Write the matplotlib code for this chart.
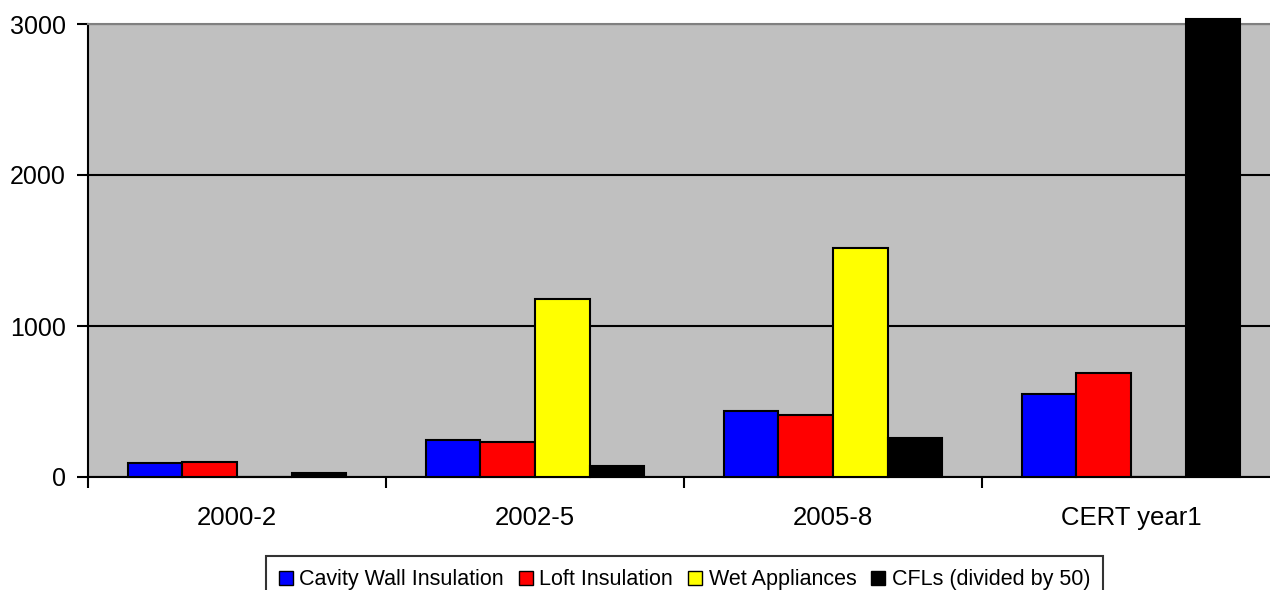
import matplotlib.pyplot as plt
import numpy as np

plt.rcParams["font.family"] = ["Liberation Sans", "DejaVu Sans"]

periods = ["2000-2", "2002-5", "2005-8", "CERT year1"]
series_names = [
	"Cavity Wall Insulation",
	"Loft Insulation",
	"Wet Appliances",
	"CFLs (divided by 50)",
]
cavity_wall = [93, 245, 437, 548]
loft = [101, 232, 411, 687]
wet_appliances = [0, 1179, 1517, 0]
cfls_div50 = [24, 73, 258, 3030]

colors = ["#0000FF", "#FF0000", "#FFFF00", "#000000"]


def plot_chart():
	fig = plt.figure(figsize=(12.7, 5.9), dpi=100)
	ax = fig.add_axes([88/1270, 1 - 477/590, 1192/1270, (477-24)/590])
	ax.set_facecolor("#C0C0C0")

	x_axis = np.arange(len(periods))
	width = 0.183
	all_series = [cavity_wall, loft, wet_appliances, cfls_div50]
	for i, values in enumerate(all_series):
		ax.bar(
			x_axis + (i - 1.5) * width,
			values,
			width=width,
			color=colors[i],
			edgecolor="black",
			linewidth=1.5,
			label=series_names[i],
			clip_on=False,
			zorder=3,
		)

	ax.set_xlim(-0.5, len(periods) - 0.5)
	ax.set_ylim(0, 3000)
	ax.set_yticks([0, 1000, 2000, 3000])
	ax.yaxis.grid(True, color="black", linewidth=1.5, zorder=1)
	ax.set_axisbelow(True)

	# group boundary ticks, labels centred under groups
	ax.set_xticks(np.arange(len(periods) + 1) - 0.5)
	ax.set_xticklabels([])
	ax.set_xticks(x_axis, minor=True)
	ax.set_xticklabels(periods, minor=True, fontsize=18.5)
	ax.tick_params(axis="x", which="minor", length=0, pad=21)
	ax.tick_params(axis="x", which="major", length=8, width=1.5, direction="out")
	ax.tick_params(axis="y", length=8, width=1.5, direction="out", labelsize=18, pad=8)

	ax.spines["left"].set_linewidth(1.5)
	ax.spines["bottom"].set_linewidth(1.5)
	ax.spines["top"].set_color("#808080")
	ax.spines["top"].set_linewidth(1.5)
	ax.spines["right"].set_visible(False)

	leg = fig.legend(
		loc="upper center",
		bbox_to_anchor=(0.539, 0.057),
		ncol=4,
		fontsize=15.5,
		frameon=True,
		fancybox=False,
		edgecolor="black",
		handlelength=0.65,
		handleheight=0.65,
		handletextpad=0.3,
		columnspacing=0.7,
		borderpad=0.6,
		borderaxespad=0,
	)
	leg.get_frame().set_linewidth(1.5)
	for h in leg.legend_handles:
		h.set_linewidth(1.0)

	fig.savefig("out.png", dpi=100)
	plt.close(fig)


if __name__ == "__main__":
	plot_chart()
